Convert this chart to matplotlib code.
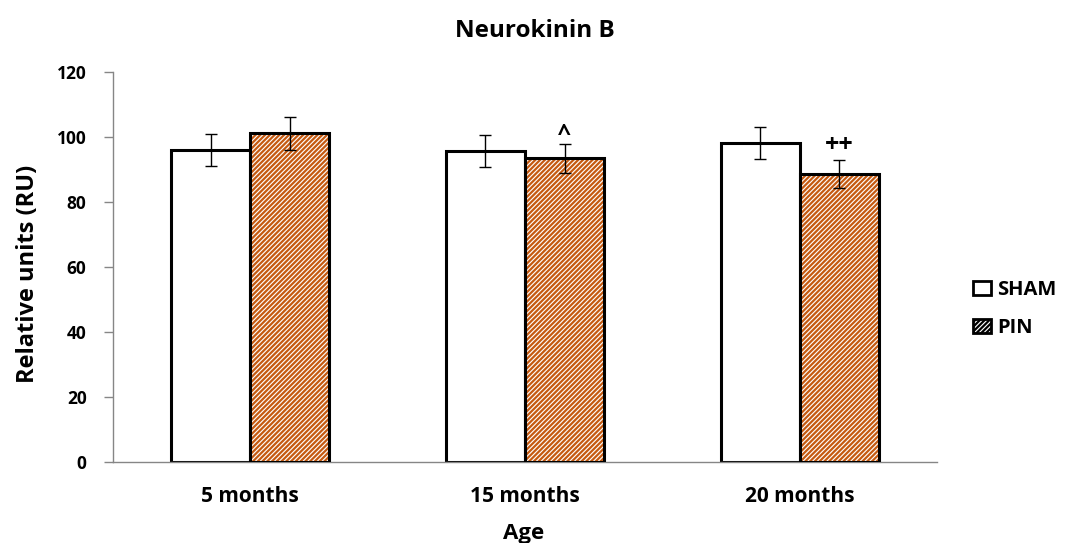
import matplotlib
matplotlib.use("Agg")
import matplotlib.pyplot as plt
from matplotlib.patches import Patch
import numpy as np

plt.rcParams['font.family'] = ['Open Sans', 'DejaVu Sans']
plt.rcParams['hatch.linewidth'] = 1.6

# Data
categories = ["5 months", "15 months", "20 months"]
sham_values = [96.0, 95.7, 98.1]
sham_errors = [4.8, 4.9, 5.0]
pin_values = [101.1, 93.4, 88.6]
pin_errors = [5.1, 4.6, 4.3]
pin_marks = ["", "^", "++"]
y_ticks = [0, 20, 40, 60, 80, 100, 120]

orange = "#C55A11"
spine_gray = "#868686"
hatch_pattern = "///////"
# vertical offset (points) of each mark's baseline above the error bar top
mark_style = {"^": dict(size=17, dy=1.5), "++": dict(size=18, dy=6.0)}

W, H = 1074, 543
fig = plt.figure(figsize=(W / 100, H / 100), dpi=100)
ax = fig.add_axes([113 / W, 1 - 462 / H, 824 / W, 390 / H])

x = np.arange(len(categories))
w = 0.288

# SHAM bars: white fill, thick black outline
ax.bar(x - w / 2, sham_values, w, color="white", edgecolor="black", linewidth=2.2, zorder=2)

# PIN bars: orange diagonal hatch, then black outline on top
ax.bar(x + w / 2, pin_values, w, color="white", edgecolor=orange, hatch=hatch_pattern,
       linewidth=0, zorder=2)
ax.bar(x + w / 2, pin_values, w, fill=False, edgecolor="black", linewidth=2.2, zorder=3)

# Error bars
ax.errorbar(x - w / 2, sham_values, yerr=sham_errors, fmt="none", ecolor="black",
            elinewidth=1.0, capsize=4.3, capthick=1.0, zorder=4)
ax.errorbar(x + w / 2, pin_values, yerr=pin_errors, fmt="none", ecolor="black",
            elinewidth=1.0, capsize=4.3, capthick=1.0, zorder=4)

# Significance marks above PIN bars
for xi, v, e, m in zip(x, pin_values, pin_errors, pin_marks):
    if m:
        st = mark_style[m]
        ax.annotate(m, (xi + w / 2, v + e), xytext=(0, st["dy"]), textcoords="offset points",
                    ha="center", va="baseline", fontsize=st["size"], fontweight="bold")

ax.set_xlim(-0.5, 2.5)
ax.set_ylim(0, 120)
ax.set_yticks(y_ticks)
ax.set_xticks(x)
ax.set_xticklabels(categories)

for s in ["top", "right"]:
    ax.spines[s].set_visible(False)
for s in ["left", "bottom"]:
    ax.spines[s].set_color(spine_gray)
    ax.spines[s].set_linewidth(1.0)

ax.tick_params(axis="y", direction="out", length=6.5, width=1.0, color=spine_gray,
               labelsize=12.5, pad=12.5)
ax.tick_params(axis="x", length=0, labelsize=15, pad=17)
for lbl in ax.get_xticklabels() + ax.get_yticklabels():
    lbl.set_fontweight("bold")

fig.text(524 / W, 1 - 538.5 / H, "Age", ha="center", va="baseline",
         fontsize=16, fontweight="bold")
fig.text(28 / W, 1 - 274 / H, "Relative units (RU)", rotation=90, ha="center",
         va="center", fontsize=17, fontweight="bold")
fig.text(535 / W, 1 - 37 / H, "Neurokinin B", ha="center", va="baseline",
         fontsize=17.5, fontweight="bold")

handles = [
    Patch(facecolor="white", edgecolor="black", linewidth=2.0, label="SHAM"),
    Patch(facecolor="white", edgecolor=orange, hatch=hatch_pattern, linewidth=0, label="PIN"),
]
leg = fig.legend(handles=handles, loc="center left", bbox_to_anchor=(973 / W, 1 - 309 / H),
                 frameon=False, borderpad=0, borderaxespad=0,
                 handlelength=0.9, handleheight=0.7, handletextpad=0.3,
                 labelspacing=0.9, prop={"weight": "bold", "size": 14.5})
# black outline around the hatched legend key
leg.legend_handles[1].set_edgecolor("black")
leg.legend_handles[1].set_linewidth(2.0)

fig.savefig("out.png", dpi=100)
